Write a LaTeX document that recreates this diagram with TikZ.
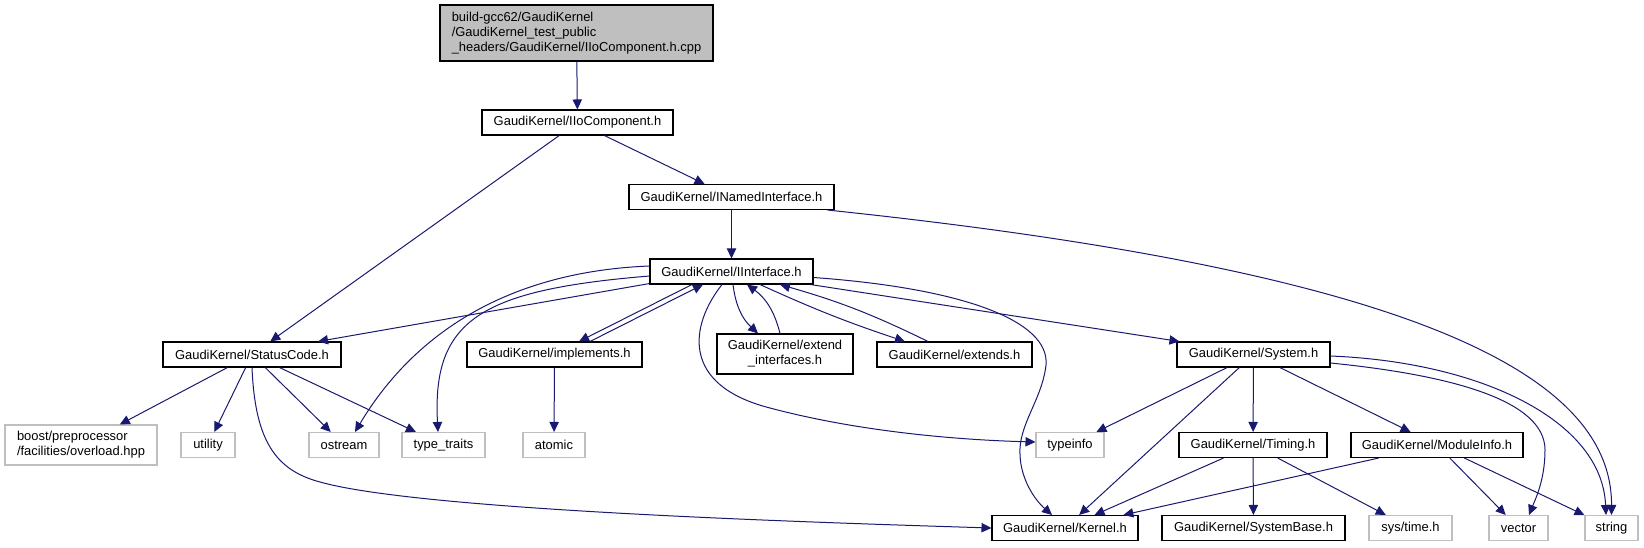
\documentclass[tikz,border=0pt]{standalone}
\usepackage{fontspec}
\setmainfont{Liberation Sans}
\usetikzlibrary{arrows.meta,calc}
\definecolor{edgeblue}{HTML}{191970}
\definecolor{sysgray}{HTML}{BFBFBF}
\begin{document}
\begin{tikzpicture}[x=0.75pt,y=-0.75pt,
  hdr/.style={draw=black,line width=0.8pt,inner sep=0pt,minimum height=18.75pt,
    font=\fontsize{9.7}{11.25}\selectfont},
  sys/.style={hdr,draw=sysgray},
  dep/.style={draw=edgeblue,line width=0.75pt,-{Triangle[length=7.5pt,width=7pt]}}]
  \useasboundingbox (0,0) rectangle (1644,547);
  \path (576.5,33) node[hdr,fill=sysgray,minimum width=204.75pt,minimum height=42pt,align=left] (root) {build-gcc62/GaudiKernel\\/GaudiKernel\_test\_public\\\_headers/GaudiKernel/IIoComponent.h.cpp};
  \path (577.5,122.5) node[hdr,minimum width=143.25pt] (iio) {GaudiKernel/IIoComponent.h};
  \path (731.5,197) node[hdr,minimum width=153.75pt] (inamed) {GaudiKernel/INamedInterface.h};
  \path (731.5,271.5) node[hdr,minimum width=122.25pt] (iint) {GaudiKernel/IInterface.h};
  \path (252,354.5) node[hdr,minimum width=133.5pt] (status) {GaudiKernel/StatusCode.h};
  \path (554.5,354.5) node[hdr,minimum width=131.25pt] (impl) {GaudiKernel/implements.h};
  \path (785,354) node[hdr,minimum width=102pt,minimum height=30pt,align=center] (extif) {GaudiKernel/extend\\\_interfaces.h};
  \path (954.5,354.5) node[hdr,minimum width=116.25pt] (extends) {GaudiKernel/extends.h};
  \path (1253.5,354.5) node[hdr,minimum width=114.75pt] (system) {GaudiKernel/System.h};
  \path (81,445) node[sys,minimum width=114pt,minimum height=30pt,align=left] (boost) {boost/preprocessor\\/facilities/overload.hpp};
  \path (208,445) node[sys,minimum width=40.5pt] (utility) {utility};
  \path (344,445) node[sys,minimum width=52.5pt] (ostream) {ostream};
  \path (443.5,445) node[sys,minimum width=62.25pt] (traits) {type\_traits};
  \path (554,445) node[sys,minimum width=46.5pt] (atomic) {atomic};
  \path (1070,445) node[sys,minimum width=51pt] (typeinfo) {typeinfo};
  \path (1253,445) node[hdr,minimum width=111pt] (timing) {GaudiKernel/Timing.h};
  \path (1437,445) node[hdr,minimum width=129pt] (modinfo) {GaudiKernel/ModuleInfo.h};
  \path (1065,528) node[hdr,minimum width=109.5pt] (kernel) {GaudiKernel/Kernel.h};
  \path (1253.5,528) node[hdr,minimum width=137.25pt] (sysbase) {GaudiKernel/SystemBase.h};
  \path (1410.5,528) node[sys,minimum width=62.25pt] (systime) {sys/time.h};
  \path (1518.5,528) node[sys,minimum width=44.25pt] (vector) {vector};
  \path (1611.5,528) node[sys,minimum width=39.75pt] (string) {string};
  \draw[dep] (root) -- (iio);
  \draw[dep] (iio) -- (status);
  \draw[dep] (iio) -- (inamed);
  \draw[dep] (inamed) -- (iint);
  \draw[dep] ($(inamed.south east)+(-7,0)$) .. controls (1400,270) and (1612,370) .. (string.north);
  \draw[dep] ($(iint.west)+(0,-5.5)$) .. controls (500,272) and (410,340) .. ($(ostream.north)+(11,0)$);
  \draw[dep] ($(iint.west)+(0,4.5)$) .. controls (480,290) and (432,320) .. ($(traits.north)+(-5.5,0)$);
  \draw[dep] ($(iint.south west)+(0,-1)$) -- ($(status.north)+(66,0)$);
  \draw[dep] ($(iint.south)+(-39.5,0)$) -- ($(impl.north)+(24.5,0)$);
  \draw[dep] ($(impl.north)+(35.5,0)$) -- ($(iint.south)+(-28.5,0)$);
  \draw[dep] ($(iint.south)+(1.5,0)$) to[bend right=20] ($(extif.north)+(-27,0)$);
  \draw[dep] ($(extif.north)+(-5,0)$) to[bend right=20] ($(iint.south)+(15.5,0)$);
  \draw[dep] ($(iint.south)+(28.5,0)$) to[bend right=3] ($(extends.north)+(-49.5,0)$);
  \draw[dep] ($(extends.north)+(-26.5,0)$) to[bend right=5] ($(iint.south)+(48.5,0)$);
  \draw[dep] ($(iint.south)+(-9.5,0)$) .. controls (690,325) and (680,385) .. (770,408) .. controls (860,432) and (960,440) .. ($(typeinfo.west)+(0,-3)$);
  \draw[dep] ($(iint.east)+(0,6)$) .. controls (960,288) and (1050,320) .. (1046,365) .. controls (1042,400) and (1018,425) .. (1020,455) .. controls (1021,480) and (1035,500) .. ($(kernel.north)+(-13,0)$);
  \draw[dep] ($(iint.south east)+(-3,0)$) -- ($(system.north west)+(3,0)$);
  \draw[dep] (status) -- (boost);
  \draw[dep] (status) -- (utility);
  \draw[dep] (status) -- (ostream);
  \draw[dep] (status) -- (traits);
  \draw[dep] (status.south) .. controls (255,440) and (275,470) .. (320,482) .. controls (420,510) and (800,522) .. (kernel.west);
  \draw[dep] (impl) -- (atomic);
  \draw[dep] (system) -- (typeinfo);
  \draw[dep] (system) -- (kernel);
  \draw[dep] (system) -- (timing);
  \draw[dep] (system) -- (modinfo);
  \draw[dep] ($(system.east)+(0,8.5)$) .. controls (1450,375) and (1545,400) .. (1545,450) .. controls (1545,480) and (1535,500) .. ($(vector.north)+(10.5,0)$);
  \draw[dep] ($(system.east)+(0,1.5)$) .. controls (1480,362) and (1602,420) .. ($(string.north)+(-5.5,0)$);
  \draw[dep] (timing) -- (kernel);
  \draw[dep] (timing) -- (sysbase);
  \draw[dep] (timing) -- (systime);
  \draw[dep] (modinfo) -- (kernel);
  \draw[dep] (modinfo) -- (vector);
  \draw[dep] (modinfo) -- (string);
\end{tikzpicture}
\end{document}
